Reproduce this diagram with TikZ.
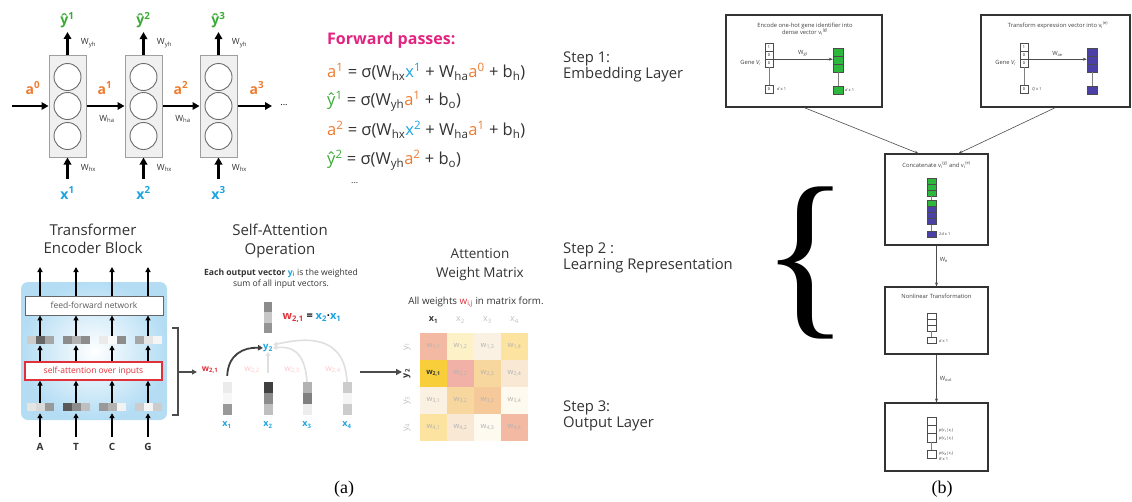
\documentclass[tikz,border=0pt]{standalone}
\usepackage{fontspec}
\setmainfont{Open Sans}
\newfontfamily\capfont{Liberation Serif}
\usetikzlibrary{positioning}
\usetikzlibrary{arrows.meta}

\definecolor{rnnorange}{HTML}{EE7B30}
\definecolor{rnngreen}{HTML}{3AAA35}
\definecolor{rnnblue}{HTML}{1BA3E0}
\definecolor{fwdpink}{HTML}{E2237F}
\definecolor{txtgray}{HTML}{333333}
\definecolor{attred}{HTML}{E0303A}
\definecolor{panelblue}{HTML}{B4DDF4}
\definecolor{embgreen}{HTML}{2DB83D}
\definecolor{embpurple}{HTML}{4B3FA8}
% weight matrix cells
\definecolor{wsalmon}{HTML}{F3B9A2}
\definecolor{wpink}{HTML}{F2B1A6}
\definecolor{wgold}{HTML}{F8CE3A}
\definecolor{wyellow}{HTML}{FCE3A0}
\definecolor{wcream}{HTML}{FDF1C8}
\definecolor{wpale}{HTML}{FBF1E3}
\definecolor{wapricot}{HTML}{F8D79E}
\definecolor{worange}{HTML}{F6C99A}
\definecolor{wivory}{HTML}{FEFAF0}
\definecolor{wbeige}{HTML}{F8E8D4}

% coloured pieces of the forward pass equations
\newcommand{\av}[1]{\textcolor{rnnorange}{a\textsuperscript{#1}}}
\newcommand{\xv}[1]{\textcolor{rnnblue}{x\textsuperscript{#1}}}
\newcommand{\yv}[1]{\textcolor{rnngreen}{ŷ\textsuperscript{#1}}}
% strips of grey cells: x, y, shades, cell width, cell height
\newcommand{\hstack}[5]{\foreach \s [count=\k from 0] in #3 \fill[black!\s] (#1+\k*#4,#2-#5/2) rectangle ++(#4,#5);}
\newcommand{\vstack}[5]{\foreach \s [count=\k from 0] in #3 \fill[black!\s] (#1-#4/2,#2+\k*#5) rectangle ++(#4,#5);}

\begin{document}
\begin{tikzpicture}[x=1pt, y=-1pt,
            fat/.style = {line width=2.6pt, -{Triangle[length=7pt,width=7.5pt]}},
            slim/.style = {line width=1.7pt, -{Triangle[length=5pt,width=5pt]}},
            feed/.style = {line width=0.6pt, black!70, -{Stealth[length=4pt,width=3pt]}}
            ]

        \tikzstyle{cell}=[draw=gray!75, fill=gray!12, line width=1pt, minimum width=37pt, minimum height=102pt]
        \tikzstyle{unit}=[circle, draw=gray!85!black, fill=white, line width=0.9pt, minimum size=27pt, inner sep=0pt]
        \tikzstyle{wlbl}=[inner sep=0pt, font=\fontsize{8.5}{9}\selectfont, text=txtgray]
        \tikzstyle{title}=[align=center, inner sep=0pt, font=\fontsize{15}{18.5}\selectfont, text=txtgray]
        \tikzstyle{note}=[align=center, inner sep=0pt, font=\fontsize{8.6}{11.5}\selectfont, text=txtgray]
        \tikzstyle{wcell}=[minimum size=27pt, inner sep=0pt, font=\fontsize{7.5}{8}\selectfont, text=black!30]
        \tikzstyle{wsel}=[font=\fontsize{7.5}{8}\selectfont\bfseries, text=txtgray]
        \tikzstyle{panel}=[draw=black!80, line width=1.1pt, fill=white]
        \tikzstyle{tiny}=[inner sep=0pt, font=\fontsize{5.8}{7}\selectfont, text=black!75]
        \tikzstyle{slot}=[draw=black!70, line width=0.4pt, fill=white, minimum width=8pt, minimum height=8pt, inner sep=0pt, font=\fontsize{3.8}{4}\selectfont]
        \tikzstyle{steptxt}=[anchor=west, align=left, inner sep=0pt, font=\fontsize{14.8}{16.5}\selectfont, text=txtgray]

        \useasboundingbox (0,0) rectangle (1132,501);

	% recurrent cells
	\foreach \i/\x in {1/67.5, 2/143.5, 3/218.5} {
	    \node[cell] (c\i) at (\x,106) {};
	    \foreach \j/\y in {1/77, 2/106, 3/136}
	        \node[unit] (u\i\j) at (\x,\y) {};
	    \node[inner sep=0pt, font=\fontsize{14}{14}\selectfont\bfseries, text=rnngreen] (yh\i) at (\x,20) {ŷ\textsuperscript{\i}};
	    \node[inner sep=0pt, font=\fontsize{14}{14}\selectfont\bfseries, text=rnnblue] (x\i) at (\x,193) {x\textsuperscript{\i}};
	    \coordinate (xin\i) at (\x,179);
	    \draw[fat] (c\i.north) -- ([yshift=-4pt]yh\i.south);
	    \draw[fat] (xin\i) -- (c\i.south);
	    \node[wlbl] at (\x+21,43) {W\textsubscript{yh}};
	    \node[wlbl] at (\x+21,168) {W\textsubscript{hx}};
	}

	% hidden state passed along
	\coordinate (a0in) at (12,106);
	\coordinate (a3out) at (272,106);
	\draw[fat] (a0in) -- (c1.west);
	\draw[fat] (c1.east) -- (c2.west);
	\draw[fat] (c2.east) -- (c3.west);
	\draw[fat] (c3.east) -- (a3out);
	\node[inner sep=0pt, font=\fontsize{9}{9}\selectfont] at (284,105) {...};
	\foreach \k/\x in {0/33, 1/105, 2/181, 3/257}
	    \node[inner sep=0pt, font=\fontsize{14}{14}\selectfont\bfseries, text=rnnorange] at (\x,88) {a\textsuperscript{\k}};
	\node[wlbl] at (107,119) {W\textsubscript{ha}};
	\node[wlbl] at (183,119) {W\textsubscript{ha}};

	% forward pass equations
	\node[anchor=west, inner sep=0pt, font=\fontsize{16}{16}\selectfont\bfseries, text=fwdpink] (fwd) at (327,40) {Forward passes:};
	\begin{scope}[every node/.style={anchor=west, inner sep=0pt, font=\fontsize{16.5}{17}\selectfont, text=txtgray}]
	\node (eq1) at (327,72) {\av{1} = σ(W\textsubscript{hx}\xv{1} + W\textsubscript{ha}\av{0} + b\textsubscript{h})};
	\node (eq2) at (327,101) {\yv{1} = σ(W\textsubscript{yh}\av{1} + b\textsubscript{o})};
	\node (eq3) at (327,130) {\av{2} = σ(W\textsubscript{hx}\xv{2} + W\textsubscript{ha}\av{1} + b\textsubscript{h})};
	\node (eq4) at (327,160) {\yv{2} = σ(W\textsubscript{yh}\av{2} + b\textsubscript{o})};
	\node[font=\fontsize{9}{9}\selectfont] (eqdots) at (351,183) {...};
	\end{scope}

	% encoder block
	\node[title] (enctitle) at (93,239) {Transformer\\Encoder Block};
	\shade[rounded corners=7pt, inner color=white, outer color=panelblue] (21,282) rectangle (167,420);
	\node[draw=gray!80!black, line width=0.9pt, fill=white, minimum width=138pt, minimum height=19pt, inner sep=0pt,
	      font=\fontsize{8.5}{9}\selectfont, text=black!65] (ffn) at (94,305.5) {feed-forward network};
	\node[draw=attred, line width=1.3pt, fill=white, minimum width=137pt, minimum height=18pt, inner sep=0pt,
	      font=\fontsize{8.5}{9}\selectfont, text=attred] (sa) at (93.5,371) {self-attention over inputs};
	\foreach \i/\x/\midsh/\lowsh/\base in {1/40/{20,60,35}/{10,15,40}/A, 2/76/{45,30,45}/{65,45,25}/T,
	                                      3/112/{8,2,45}/{40,30,5}/C, 4/148/{35,10,4}/{20,4,20}/G} {
	    \hstack{\x-13.5}{340}{\midsh}{9}{8}
	    \hstack{\x-13.5}{407}{\lowsh}{9}{8}
	    \node[inner sep=0pt, minimum width=27pt, minimum height=8pt] (h\i) at (\x,340) {};
	    \node[inner sep=0pt, minimum width=27pt, minimum height=8pt] (e\i) at (\x,407) {};
	    \node[inner sep=0pt, font=\fontsize{10}{10}\selectfont\bfseries, text=txtgray] (in\i) at (\x,447) {\base};
	    \coordinate (out\i) at (\x,267);
	    \coordinate (up\i) at (\x,437);
	    \draw[slim] (ffn.north -| out\i) -- (out\i);
	    \draw[slim] (h\i.north) -- (ffn.south -| h\i);
	    \draw[slim] (sa.north -| h\i) -- ([yshift=-1pt]h\i.south);
	    \draw[slim] (e\i.north) -- (sa.south -| e\i);
	    \draw[slim] (up\i) -- ([yshift=-2pt]e\i.south);
	}
	\draw[gray!60!black, line width=2pt] (172,328) -- (178,328) -- (178,415) -- (172,415);
	\coordinate (brk) at (178,372);
	\coordinate (brkend) at (197,372);
	\draw[gray!60!black, line width=1.2pt, -{Triangle[length=5pt,width=5pt]}] (brk) -- (brkend);

	% self-attention operation
	\node[title] (sattitle) at (280,241) {Self-Attention\\Operation};
	\node[note] (satnote) at (281,279) {\textbf{Each output vector \textcolor{rnnblue}{y\textsubscript{i}}} is the weighted\\sum of all input vectors.};
	\vstack{268}{302}{{45,22,42}}{8}{10.3}
	\node[inner sep=0pt, font=\fontsize{11}{11}\selectfont\bfseries] (weq) at (312,318)
	    {\textcolor{attred}{w\textsubscript{2,1}} = \textcolor{rnnblue}{x\textsubscript{2}}·\textcolor{rnnblue}{x\textsubscript{1}}};
	\node[inner sep=0pt, font=\fontsize{9.5}{10}\selectfont\bfseries, text=rnnblue] (y2l) at (268,348) {y\textsubscript{2}};
	\foreach \i/\x/\sh in {1/227/{8,3,40}, 2/268/{75,45,25}, 3/307/{30,50,7}, 4/347/{20,4,20}} {
	    \vstack{\x}{382}{\sh}{9}{11}
	    \node[inner sep=0pt, minimum width=9pt, minimum height=33pt] (xv\i) at (\x,398.5) {};
	    \node[inner sep=0pt, font=\fontsize{9}{9}\selectfont\bfseries, text=rnnblue] (xl\i) at (\x,425) {x\textsubscript{\i}};
	}
	\draw[gray!25, line width=1.6pt, -{Triangle[length=4pt,width=4.5pt]}] (xv4.north) .. controls (345,340) and (315,335) .. ([yshift=3pt]y2l.east);
	\draw[gray!25, line width=1.6pt, -{Triangle[length=4pt,width=4.5pt]}] (xv3.north) .. controls (305,350) and (290,346) .. (y2l.east);
	\draw[gray!25, line width=1.6pt, -{Triangle[length=4pt,width=4.5pt]}, shorten <=9pt] (xv2.north) -- (y2l.south);
	\draw[black!75, line width=1.8pt, -{Triangle[length=5pt,width=5.5pt]}, shorten <=6pt] (xv1.north) .. controls (228,355) and (243,347) .. (y2l.west);
	\node[inner sep=0pt, font=\fontsize{8.5}{9}\selectfont\bfseries, text=attred] at (210,370) {w\textsubscript{2,1}};
	\foreach \j/\x in {2/252, 3/292, 4/333}
	    \node[inner sep=0pt, font=\fontsize{8.5}{9}\selectfont, text=red!22] at (\x,370) {w\textsubscript{2,\j}};
	\coordinate (tomat) at (360,372);
	\coordinate (atmat) at (402,372);
	\draw[gray!60!black, line width=2.4pt, -{Triangle[length=6pt,width=6pt]}] (tomat) -- (atmat);

	% attention weight matrix
	\node[title, font=\fontsize{13.5}{19}\selectfont] (mattitle) at (480,265) {Attention\\Weight Matrix};
	\node[note, font=\fontsize{9.8}{11}\selectfont] (matnote) at (476,302) {All weights \textcolor{attred}{w\textsubscript{i,j}} in matrix form.};
	\foreach \r/\c/\col/\st in {1/1/wsalmon/wcell, 1/2/wcream/wcell, 1/3/wpale/wcell, 1/4/wyellow/wcell,
	                            2/1/wgold/wsel, 2/2/wpink/wcell, 2/3/wapricot/wcell, 2/4/wbeige/wcell,
	                            3/1/wpale/wcell, 3/2/wapricot/wcell, 3/3/worange/wcell, 3/4/wivory/wcell,
	                            4/1/wyellow/wcell, 4/2/wbeige/wcell, 4/3/wivory/wcell, 4/4/wsalmon/wcell}
	    \node[wcell, \st, fill=\col] (m\r\c) at (420+27*\c-13.5, 333+27*\r-13.5) {w\textsubscript{\r,\c}};
	\node[inner sep=0pt, font=\fontsize{9}{9}\selectfont\bfseries, text=txtgray] (cx1) at (433.5,320) {x\textsubscript{1}};
	\foreach \c in {2,3,4}
	    \node[inner sep=0pt, font=\fontsize{9}{9}\selectfont, text=black!25] (cx\c) at (420+27*\c-13.5,320) {x\textsubscript{\c}};
	\node[inner sep=0pt, rotate=90, font=\fontsize{9}{9}\selectfont\bfseries, text=txtgray] (ry2) at (407,373.5) {y\textsubscript{2}};
	\foreach \r in {1,3,4}
	    \node[inner sep=0pt, rotate=90, font=\fontsize{9}{9}\selectfont, text=black!25] (ry\r) at (407,333+27*\r-13.5) {y\textsubscript{\r}};

	% step labels
	\node[steptxt] (step1) at (563,67) {Step 1:\\Embedding Layer};
	\node[steptxt] (step2) at (563,258) {Step 2 :\\Learning Representation};
	\node[steptxt] (step3) at (563,416) {Step 3:\\Output Layer};
	\node[inner sep=0pt, font=\capfont\fontsize{184}{184}\selectfont] (brace) at (806,263) {\{};

	% embedding of the gene identifier
	\node[panel, minimum width=156pt, minimum height=92pt] (enc) at (804,61) {};
	\node[tiny, align=center] at (805,29) {Encode one-hot gene identifier into\\dense vector v\textsubscript{i}\textsuperscript{(g)}};
	\node[slot] (g1) at (769,47) {1};
	\node[slot] (g2) at (769,55) {0};
	\node[slot] (g3) at (769,63) {0};
	\node[slot] (g4) at (769,89) {0};
	\draw[black!50, line width=0.4pt] (g3.south) -- (g4.north);
	\node[tiny, anchor=east] at (761,63) {Gene \textit{V\textsubscript{i}}};
	\node[tiny, anchor=west, font=\fontsize{4}{4}\selectfont] at (777,89) {\textit{d} x 1};
	\node[slot, fill=embgreen, minimum width=10pt] (gv1) at (838,52) {};
	\node[slot, fill=embgreen, minimum width=10pt] (gv2) at (838,60) {};
	\node[slot, fill=embgreen, minimum width=10pt] (gv3) at (838,68) {};
	\node[slot, fill=embgreen, minimum width=10pt] (gv4) at (838,90) {};
	\draw[black!50, line width=0.4pt] (gv3.south) -- (gv4.north);
	\node[tiny, anchor=west, font=\fontsize{4}{4}\selectfont] at (845,90) {\textit{d} x 1};
	\draw[feed] (g2.south east) -- (g2.south east -| gv2.west) node[midway, above=2pt, tiny] {W\textsubscript{gt}};

	% transform of the expression vector
	\node[panel, minimum width=149pt, minimum height=92pt] (expr) at (1055.5,61) {};
	\node[tiny] at (1058,25) {Transform expression vector into v\textsubscript{i}\textsuperscript{(e)}};
	\node[slot] (q1) at (1024,47) {1};
	\node[slot] (q2) at (1024,55) {0};
	\node[slot] (q3) at (1024,63) {0};
	\node[slot] (q4) at (1024,89) {0};
	\draw[black!50, line width=0.4pt] (q3.south) -- (q4.north);
	\node[tiny, anchor=east] at (1016,63) {Gene \textit{V\textsubscript{i}}};
	\node[tiny, anchor=west, font=\fontsize{4}{4}\selectfont] at (1032,89) {\textit{Q} x 1};
	\node[slot, fill=embpurple, minimum width=10pt] (ev1) at (1092,52) {};
	\node[slot, fill=embpurple, minimum width=10pt] (ev2) at (1092,60) {};
	\node[slot, fill=embpurple, minimum width=10pt] (ev3) at (1092,68) {};
	\node[slot, fill=embpurple, minimum width=10pt] (ev4) at (1092,90) {};
	\draw[black!50, line width=0.4pt] (ev3.south) -- (ev4.north);
	\draw[feed] (q2.south east) -- (q2.south east -| ev2.west) node[midway, above=2pt, tiny] {W\textsubscript{ae}};

	% concatenation
	\node[panel, minimum width=103pt, minimum height=91pt] (cat) at (936.5,199.5) {};
	\node[tiny] at (936.5,165) {Concatenate v\textsubscript{i}\textsuperscript{(g)} and v\textsubscript{i}\textsuperscript{(e)}};
	\foreach \k/\y/\col in {1/181/embgreen, 2/187/embgreen, 3/193/embgreen, 4/203.5/embgreen,
	                        5/209.5/embpurple, 6/215.5/embpurple, 7/221.5/embpurple, 8/234/embpurple}
	    \node[slot, fill=\col, minimum width=9pt, minimum height=6pt] (cc\k) at (931.5,\y) {};
	\draw[black!50, line width=0.4pt] (cc3.south) -- (cc4.north);
	\draw[black!50, line width=0.4pt] (cc7.south) -- (cc8.north);
	\node[tiny, anchor=west, font=\fontsize{4}{4}\selectfont] at (939,234) {2\textit{d} x 1};
	\draw[feed] (enc.south) -- ([xshift=-18pt]cat.north);
	\draw[feed] (expr.south) -- ([xshift=22pt]cat.north);

	% nonlinear transformation
	\node[panel, minimum width=103pt, minimum height=67pt] (nl) at (936.5,320.5) {};
	\node[tiny] at (936.5,296) {Nonlinear Transformation};
	\foreach \k/\y in {1/316, 2/322, 3/328, 4/340.5}
	    \node[slot, minimum width=9pt, minimum height=6pt] (nc\k) at (931.5,\y) {};
	\draw[black!50, line width=0.4pt] (nc3.south) -- (nc4.north);
	\node[tiny, anchor=west, font=\fontsize{4}{4}\selectfont] at (939,341) {\textit{d} x 1};
	\draw[feed] (cat.south) -- (nl.north) node[pos=0.35, right=3pt, tiny] {W\textsubscript{e}};

	% output layer
	\node[panel, minimum width=103pt, minimum height=68pt] (outb) at (936.5,437) {};
	\foreach \k/\y in {1/421, 2/429.3, 3/437.6, 4/454.5}
	    \node[slot, minimum width=9pt, minimum height=8.3pt] (oc\k) at (931.5,\y) {};
	\draw[black!50, line width=0.4pt] (oc3.south) -- (oc4.north);
	\node[tiny, anchor=west, font=\fontsize{4}{4}\selectfont] at (939,430) {\textit{p}(\textit{v\textsubscript{1}}|\textit{x\textsubscript{i}})};
	\node[tiny, anchor=west, font=\fontsize{4}{4}\selectfont] at (939,438) {\textit{p}(\textit{v\textsubscript{2}}|\textit{x\textsubscript{i}})};
	\node[tiny, anchor=west, font=\fontsize{4}{4}\selectfont] at (939,453) {\textit{p}(\textit{v\textsubscript{B}}|\textit{x\textsubscript{i}})};
	\node[tiny, anchor=west, font=\fontsize{4}{4}\selectfont] at (939,459) {\textit{B} x 1};
	\draw[feed] (nl.south) -- (outb.north) node[midway, right=3pt, tiny] {W\textsubscript{out}};

	% sub-figure captions
	\node[inner sep=0pt, font=\capfont\fontsize{18}{18}\selectfont] (capa) at (344,489) {(a)};
	\node[inner sep=0pt, font=\capfont\fontsize{18}{18}\selectfont] (capb) at (942,489) {(b)};

  \end{tikzpicture}
\end{document}
